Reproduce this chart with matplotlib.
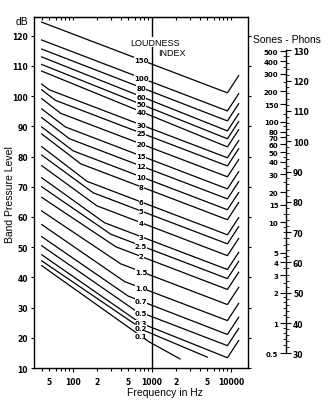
import matplotlib
matplotlib.use("Agg")
import matplotlib.pyplot as plt
import matplotlib.ticker as ticker
import numpy as np

plt.rcParams["font.family"] = ["Liberation Sans", "DejaVu Sans"]

# Loudness index contours (Stevens Mark VI), top to bottom
INDEX_LABELS = ["150", "100", "80", "60", "50", "40", "30", "25", "20", "15",
                "12", "10", "8", "6", "5", "4", "3", "2.5", "2", "1.5",
                "1.0", "0.7", "0.5", "0.3", "0.2", "0.1"]

# vertices of each contour: band frequency (Hz) and band pressure level (dB)
CONTOUR_HZ = [
    [40, 9000, 12500],
    [40, 9000, 12500],
    [40, 9000, 12500],
    [40, 9000, 12500],
    [40, 9000, 12500],
    [40, 9000, 12500],
    [40, 50, 9000, 12500],
    [40, 60, 9000, 12500],
    [40, 70, 9000, 12500],
    [40, 80, 9000, 12500],
    [40, 90, 9000, 12500],
    [40, 100, 9000, 12500],
    [40, 125, 9000, 12500],
    [40, 150, 9000, 12500],
    [40, 180, 9000, 12500],
    [40, 200, 9000, 12500],
    [40, 250, 9000, 12500],
    [40, 300, 9000, 12500],
    [40, 350, 9000, 12500],
    [40, 400, 9000, 12500],
    [40, 450, 9000, 12500],
    [40, 500, 9000, 12500],
    [40, 600, 9000, 12500],
    [40, 700, 9000, 12500],
    [40, 800, 5000],
    [40, 900, 2260],
]
CONTOUR_DB = [
    [124.5, 101.1, 106.8],
    [118.6, 95.1, 100.8],
    [115.6, 91.8, 97.5],
    [113.0, 88.5, 94.2],
    [110.5, 85.9, 91.6],
    [108.3, 83.2, 88.9],
    [104.0, 102.1, 79.6, 85.3],
    [102.1, 98.6, 76.9, 82.6],
    [99.2, 94.3, 73.3, 79.0],
    [95.8, 89.8, 69.3, 75.0],
    [92.9, 85.9, 66.0, 71.7],
    [89.8, 81.9, 62.4, 68.1],
    [87.5, 77.6, 59.1, 64.8],
    [83.3, 71.8, 54.1, 59.8],
    [80.5, 68.0, 51.1, 56.8],
    [77.0, 63.7, 47.2, 52.9],
    [73.0, 58.1, 42.6, 48.3],
    [70.0, 54.3, 39.6, 45.3],
    [66.5, 50.1, 36.0, 41.7],
    [62.0, 44.5, 31.0, 36.7],
    [57.5, 38.6, 25.7, 31.4],
    [53.5, 33.8, 21.1, 26.8],
    [50.5, 29.2, 17.4, 23.1],
    [47.5, 25.0, 13.4, 19.1],
    [45.5, 22.4, 13.6],
    [43.9, 18.8, 13.0],
]
LABEL_HZ = 726

# frequency axis ticks
FREQ_MAJOR = [100, 1000, 10000]
FREQ_MINOR = [40, 50, 60, 70, 80, 90, 200, 300, 400, 500, 600, 700, 800, 900,
              2000, 3000, 4000, 5000, 6000, 7000, 8000, 9000]
FREQ_LABELS = {50: "5", 100: "100", 200: "2", 500: "5", 1000: "1000",
               2000: "2", 5000: "5", 10000: "10000"}
DB_TICKS = list(range(10, 130, 10))

# sones / phons scale
PHON_TICKS = list(range(30, 140, 10))
SONE_TICKS = [0.5, 1, 2, 3, 4, 5, 10, 15, 20, 30, 40, 50, 60, 70, 80, 100,
              150, 200, 300, 400, 500]
SONE_MINOR = [0.6, 0.7, 0.8, 0.9, 1.2, 1.4, 1.6, 1.8, 2.5, 3.5, 4.5, 6, 7, 8, 9,
              12, 25, 35, 45, 90, 120, 250, 350, 450]

TICK_FONT = dict(family=["Liberation Sans Narrow", "DejaVu Sans"], size=5.5,
                 weight="bold")
CURVE_FONT = dict(family=["Liberation Sans Narrow", "DejaVu Sans"], size=5,
                  weight="bold")


def main():
    fig = plt.figure(figsize=(3.28, 4.06), dpi=100)
    ax = fig.add_axes([0.1037, 0.0911, 0.6524, 0.8645])
    ax.set_xscale("log")
    ax.set_xlim(32, 16400)
    ax.set_ylim(10, 126.2)

    for label, hz, db in zip(INDEX_LABELS, CONTOUR_HZ, CONTOUR_DB):
        ax.plot(hz, db, color="black", linewidth=0.9, solid_joinstyle="miter")
        y = np.interp(np.log10(LABEL_HZ), np.log10(hz), db)
        ax.text(LABEL_HZ, y, label, ha="center", va="center", zorder=4,
                bbox=dict(facecolor="white", edgecolor="none", pad=0.1),
                **CURVE_FONT)

    ax.axvline(1000, color="black", linewidth=1.0, zorder=3)

    ax.set_xticks(FREQ_MAJOR)
    ax.set_xticks(FREQ_MINOR, minor=True)
    ax.xaxis.set_major_formatter(ticker.NullFormatter())
    ax.xaxis.set_minor_formatter(ticker.NullFormatter())
    for f, s in FREQ_LABELS.items():
        ax.text(f, -0.025, s, transform=ax.get_xaxis_transform(),
                ha="center", va="top", **TICK_FONT)
    ax.tick_params(axis="x", which="major", direction="out", length=3, width=0.8)
    ax.tick_params(axis="x", which="minor", direction="out", length=2, width=0.8)

    top = ax.secondary_xaxis("top")
    top.set_xticks(FREQ_MAJOR)
    top.set_xticks(FREQ_MINOR, minor=True)
    top.xaxis.set_major_formatter(ticker.NullFormatter())
    top.xaxis.set_minor_formatter(ticker.NullFormatter())
    top.tick_params(axis="x", which="both", direction="in", length=2.5, width=0.8)

    ax.set_yticks(DB_TICKS)
    ax.set_yticklabels([str(v) for v in DB_TICKS], **TICK_FONT)
    ax.yaxis.set_minor_locator(ticker.NullLocator())
    ax.tick_params(axis="y", direction="out", length=2.5, width=0.8, pad=2,
                   right=True)
    for sp in ax.spines.values():
        sp.set_linewidth(1.0)

    fig.text(10 / 328, 1 - 195 / 406, "Band Pressure Level", rotation=90,
             ha="center", va="center", fontsize=7.5)
    fig.text(165 / 328, 1 - 393 / 406, "Frequency in Hz", ha="center",
             va="center", fontsize=7.5)
    fig.text(22 / 328, 1 - 22 / 406, "dB", ha="center", va="center", fontsize=7.5)
    ax.text(155 / 328, 1 - 43 / 406, "LOUDNESS", transform=fig.transFigure,
            ha="center", va="center", fontsize=6.5, zorder=5,
            bbox=dict(facecolor="white", edgecolor="none", pad=0.3))
    ax.text(172 / 328, 1 - 54 / 406, "INDEX", transform=fig.transFigure,
            ha="center", va="center", fontsize=6.5, zorder=5)

    # sones - phons scale
    sc = fig.add_axes([0.872, 0.1273, 0.0001, 0.7461])
    sc.set_ylim(30, 130)
    sc.set_xticks([])
    for side in ("top", "bottom", "right"):
        sc.spines[side].set_visible(False)
    sc.spines["left"].set_linewidth(1.0)
    sc.yaxis.tick_right()
    sc.set_yticks(PHON_TICKS)
    sc.set_yticklabels([str(v) for v in PHON_TICKS], **TICK_FONT)
    sc.yaxis.set_minor_locator(ticker.MultipleLocator(2))
    sc.tick_params(axis="y", which="major", direction="out", length=3.5,
                   width=0.8, pad=1.5)
    sc.tick_params(axis="y", which="minor", direction="out", length=2, width=0.6)

    sones = sc.secondary_yaxis(
        "left",
        functions=(lambda p: 2.0 ** ((np.asarray(p) - 40.0) / 10.0),
                   lambda s: 40.0 + 10.0 * np.log2(np.clip(s, 1e-6, None))))
    sones.spines["left"].set_visible(False)
    sones.set_yticks(SONE_TICKS)
    sones.set_yticklabels([str(v) for v in SONE_TICKS], fontsize=5,
                          family=["Liberation Sans Narrow", "DejaVu Sans"],
                          weight="bold")
    sones.set_yticks(SONE_MINOR, minor=True)
    sones.yaxis.set_minor_formatter(ticker.NullFormatter())
    sones.tick_params(axis="y", which="major", direction="out", length=4,
                      width=0.8, pad=1.5)
    sones.tick_params(axis="y", which="minor", direction="out", length=2,
                      width=0.6)

    fig.text(287 / 328, 1 - 40 / 406, "Sones - Phons", ha="center",
             va="center", fontsize=7.5)

    fig.savefig("out.png", dpi=100, facecolor="white")
    plt.close(fig)


if __name__ == "__main__":
    main()
